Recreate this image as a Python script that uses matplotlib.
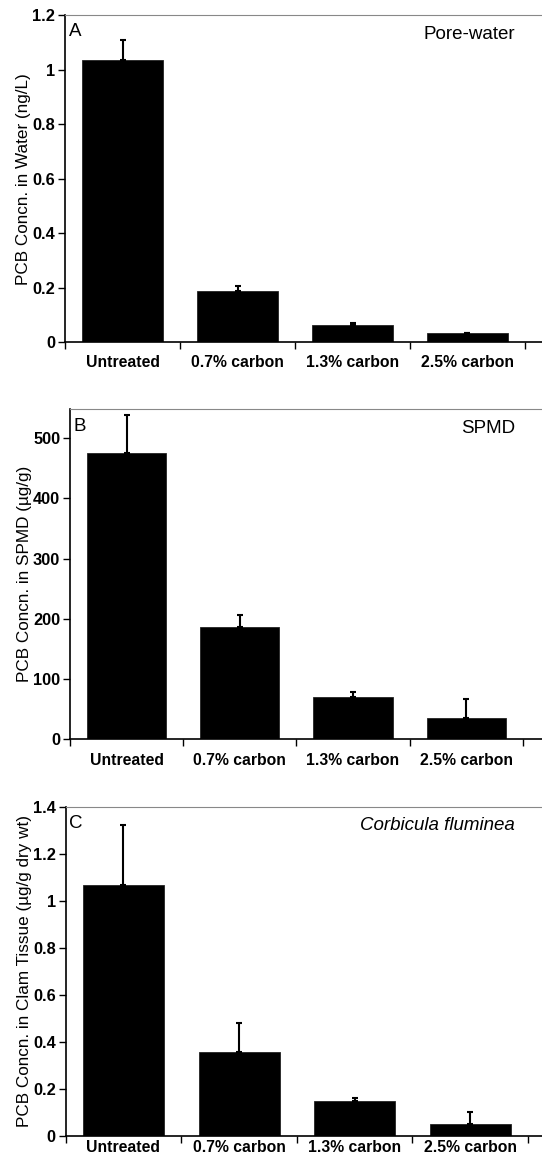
import matplotlib.pyplot as plt
import numpy as np

# matplotlib init
plt.rcParams["font.family"] = ["Liberation Sans", "DejaVu Sans"]
plt.rcParams["font.size"] = 11

#* Data
categories = ["Untreated", "0.7% carbon", "1.3% carbon", "2.5% carbon"]

water_vals = [1.035, 0.187, 0.062, 0.032]
water_err = [0.075, 0.018, 0.010, 0.003]

spmd_vals = [476, 187, 70, 34]
spmd_err = [63, 19, 8, 33]

clam_vals = [1.068, 0.358, 0.150, 0.051]
clam_err = [0.254, 0.124, 0.013, 0.052]

panels = [
    # letter, title, italic, values, errors, ylabel, ymax, yticks, ticklabels, axes rect, xmax, xpad
    ("A", "Pore-water", False, water_vals, water_err,
     "PCB Concn. in Water (ng/L)", 1.2,
     [0, 0.2, 0.4, 0.6, 0.8, 1.0, 1.2], ["0", "0.2", "0.4", "0.6", "0.8", "1", "1.2"],
     [0.120, 0.705, 0.880, 0.282], 3.648, 9),
    ("B", "SPMD", False, spmd_vals, spmd_err,
     "PCB Concn. in SPMD (\u00b5g/g)", 548,
     [0, 100, 200, 300, 400, 500], ["0", "100", "200", "300", "400", "500"],
     [0.129, 0.363, 0.871, 0.284], 3.67, 10),
    ("C", "Corbicula fluminea", True, clam_vals, clam_err,
     "PCB Concn. in Clam Tissue (\u00b5g/g dry wt)", 1.4,
     [0, 0.2, 0.4, 0.6, 0.8, 1.0, 1.2, 1.4], ["0", "0.2", "0.4", "0.6", "0.8", "1", "1.2", "1.4"],
     [0.121, 0.0207, 0.879, 0.284], 3.62, 3),
]

fig = plt.figure(figsize=(5.42, 11.6), dpi=100)

for letter, title, italic, vals, errs, ylabel, ymax, yticks, yticklabels, rect, xmax, xpad in panels:
    ax = fig.add_axes(rect)
    x = np.arange(len(categories))
    ax.bar(x, vals, width=0.7, color="black", edgecolor="#222222", linewidth=0.6)
    ax.errorbar(x, vals, yerr=[np.zeros(len(errs)), errs], fmt="none",
                ecolor="black", elinewidth=1.5, capsize=2, capthick=1.5)

    ax.set_xlim(-0.5, xmax)
    ax.set_ylim(0, ymax)

    ax.set_yticks(yticks)
    ax.set_yticklabels(yticklabels, fontweight="bold", fontsize=11.8)
    ax.set_xticks(x)
    ax.set_xticklabels(categories, fontweight="bold", fontsize=11.3)
    ax.set_xticks(np.arange(-0.5, len(categories)), minor=True)
    ax.tick_params(axis="x", which="major", length=0, pad=xpad)
    ax.tick_params(axis="x", which="minor", length=5, width=1, direction="out")
    ax.tick_params(axis="y", length=5, width=1, direction="out", pad=2)

    ax.set_ylabel(ylabel, fontsize=12.3, labelpad=1)

    ax.spines["right"].set_visible(False)
    ax.spines["top"].set_color("#888888")
    ax.spines["left"].set_linewidth(1.2)
    ax.spines["bottom"].set_linewidth(1.2)

    ax.text(0.008, 0.975, letter, transform=ax.transAxes, ha="left", va="top", fontsize=13.5)
    ax.text(0.943, 0.968, title, transform=ax.transAxes, ha="right", va="top",
            fontsize=13.5, style="italic" if italic else "normal")

fig.savefig("out.png", dpi=100)
